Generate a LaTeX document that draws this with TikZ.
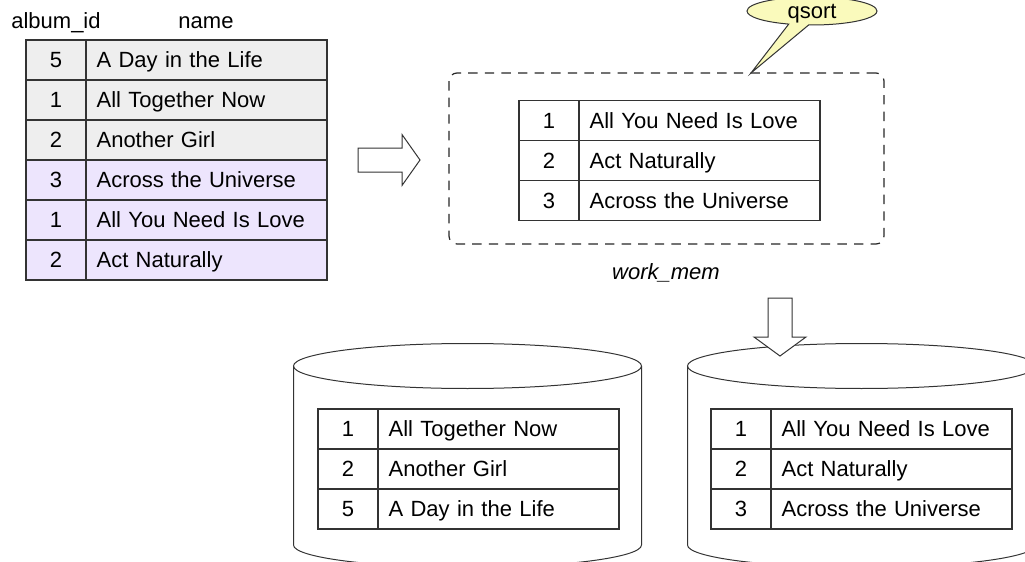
\documentclass[tikz,border=0pt]{standalone}
\usepackage{fontspec}
\setmainfont{Liberation Sans}
\usetikzlibrary{shapes.callouts}

\newcommand*{\pw}{1025}
\newcommand*{\ph}{562}
\newcommand*{\rowh}{40}

\definecolor{rowgray}{RGB}{238,238,238}
\definecolor{rowlilac}{RGB}{237,229,253}
\definecolor{qsortfill}{RGB}{250,250,188}

\begin{document}
\begin{tikzpicture}
[
	x=0.5pt,
	y=-0.5pt,
	font=\fontsize{11pt}{13pt}\selectfont,
	lbl/.style={inner sep=0pt,text height=7.9pt,text depth=0pt},
	numcell/.style={draw=black!80,line width=0.6pt,outer sep=0pt,inner sep=0pt,minimum width=30pt,minimum height=20pt,text height=7.9pt,text depth=0pt,anchor=north west},
	namecell/.style={draw=black!80,line width=0.6pt,outer sep=0pt,inner xsep=5.3pt,inner ysep=0pt,text width=109.9pt,align=left,minimum height=20pt,text height=7.9pt,text depth=0pt,anchor=north west},
	blockarrow/.style={draw=black!80,line width=0.5pt,fill=white,line join=miter},
	drum/.style={draw=black!80,line width=0.5pt}
]

	\useasboundingbox (0,0) rectangle (\pw,\ph);
	\clip (0,0) rectangle (\pw,\ph);

	% column headers
	\node[lbl] (hdr-id) at (56,21) {album\_id};
	\node[lbl] (hdr-name) at (206,21) {name};

	% source table
	\foreach \num/\title/\tint [count=\i from 0] in {5/A Day in the Life/rowgray,1/All Together Now/rowgray,2/Another Girl/rowgray,3/Across the Universe/rowlilac,1/All You Need Is Love/rowlilac,2/Act Naturally/rowlilac} {
		\node[numcell,fill=\tint] (src-num-\i) at (26,40+\i*\rowh) {\num};
		\node[namecell,fill=\tint] (src-name-\i) at (src-num-\i.north east) {\title};
	}

	% arrow to work_mem
	\draw[blockarrow] (358,148) -- (402,148) -- (402,134.5) -- (420,160) -- (402,185.5) -- (402,172) -- (358,172) -- cycle;

	% work_mem box
	\node[draw=black!85,line width=0.6pt,dash pattern=on 4.7pt off 3.6pt,rounded corners=4pt,minimum width=217.5pt,minimum height=85.5pt,inner sep=0pt] (mem) at (666.5,158.5) {};
	\node[lbl,font=\fontsize{11pt}{13pt}\selectfont\itshape] (mem-label) at (666,272) {work\_mem};

	% sorted in memory
	\foreach \num/\title [count=\i from 0] in {1/All You Need Is Love,2/Act Naturally,3/Across the Universe} {
		\node[numcell] (mem-num-\i) at (519,100.5+\i*\rowh) {\num};
		\node[namecell] (mem-name-\i) at (mem-num-\i.north east) {\title};
	}

	% qsort callout
	\coordinate (qtip) at (751,73);
	\node[ellipse callout,draw=black!80,line width=0.5pt,fill=qsortfill,minimum width=65pt,minimum height=14pt,inner sep=0pt,text height=7.9pt,text depth=0pt,callout pointer arc=18,callout absolute pointer={(qtip)}] (qsort) at (812,11) {qsort};

	% left drum
	\draw[drum] (467.5,366) ellipse [x radius=174, y radius=22.5];
	\draw[drum] (293.5,366) -- (293.5,545) arc[start angle=180, end angle=0, x radius=174, y radius=22.5] -- (641.5,366);

	% right drum
	\draw[drum] (861.5,366) ellipse [x radius=174, y radius=22.5];
	\draw[drum] (687.5,366) -- (687.5,545) arc[start angle=180, end angle=0, x radius=174, y radius=22.5] -- (1035.5,366);

	% first run
	\foreach \num/\title [count=\i from 0] in {1/All Together Now,2/Another Girl,5/A Day in the Life} {
		\node[numcell] (runa-num-\i) at (318,409+\i*\rowh) {\num};
		\node[namecell] (runa-name-\i) at (runa-num-\i.north east) {\title};
	}

	% second run
	\foreach \num/\title [count=\i from 0] in {1/All You Need Is Love,2/Act Naturally,3/Across the Universe} {
		\node[numcell] (runb-num-\i) at (711,409+\i*\rowh) {\num};
		\node[namecell] (runb-name-\i) at (runb-num-\i.north east) {\title};
	}

	% arrow to disk
	\draw[blockarrow] (768,298) -- (792,298) -- (792,337) -- (806,337) -- (780,356) -- (754,337) -- (768,337) -- cycle;

\end{tikzpicture}
\end{document}
